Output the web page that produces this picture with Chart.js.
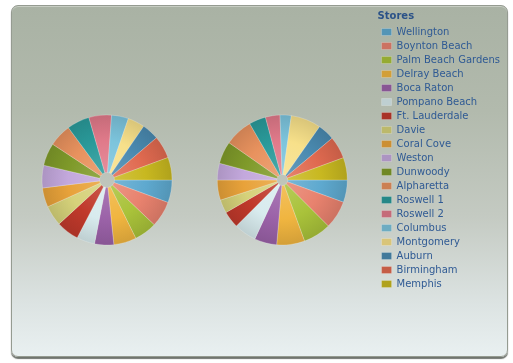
<!DOCTYPE html>
<html>
<head>
<meta charset="utf-8">
<script src="https://cdn.jsdelivr.net/npm/chart.js@4.4.1/dist/chart.umd.min.js"></script>
<style>
  html, body { margin: 0; padding: 0; background: #fff; }
  #wrap { position: relative; width: 513px; height: 363px; overflow: hidden; }
  #panel {
    position: absolute; left: 11px; top: 5px; width: 495px; height: 350px;
    border: 1px solid #959b91; border-radius: 7px;
    background: linear-gradient(to bottom, #a9b2a4 0%, #b2baad 30%, #c4cac2 60%, #dce3e2 85%, #e9f0f1 100%);
    box-shadow: 0 2px 1px #70756f, inset 0 1px 0 rgba(255,255,255,0.35);
  }
  #c1 { position: absolute; left: 37px; top: 110px; }
  #c2 { position: absolute; left: 184px; top: 0px; }
</style>
</head>
<body>
<div id="wrap">
  <div id="panel"></div>
  <canvas id="c1" width="140" height="140"></canvas>
  <canvas id="c2" width="326" height="360"></canvas>
</div>
<script>
// ── Data ──────────────────────────────────────────────────────
const stores = [
  "Wellington", "Boynton Beach", "Palm Beach Gardens", "Delray Beach",
  "Boca Raton", "Pompano Beach", "Ft. Lauderdale", "Davie", "Coral Cove",
  "Weston", "Dunwoody", "Alpharetta", "Roswell 1", "Roswell 2",
  "Columbus", "Montgomery", "Auburn", "Birmingham", "Memphis",
];
const salesLeft  = [20, 23, 20, 20, 17, 16, 20, 18, 17, 20, 20, 20, 20, 20, 15, 15, 15, 20, 20];
const salesRight = [20, 25, 25, 25, 20, 20, 15, 12, 18, 15, 20, 25, 15, 13, 10, 27, 15, 20, 20];

// ── Styles ────────────────────────────────────────────────────
const palette = [
  "#5ea9cf", "#e8826e", "#a9c23a", "#f0b540", "#9b62a8", "#d8ebee",
  "#c0392b", "#d6d27a", "#e8a23a", "#c3a8dc", "#7f9a2a", "#e8925e",
  "#2a9a9a", "#e07a8a", "#7cc4dc", "#f7e08a", "#4a8ab0", "#e06a50", "#c8b820",
];
const PIE_R = 65;

function shade(hex, amt) {
  const n = parseInt(hex.slice(1), 16);
  let r = (n >> 16) & 255, g = (n >> 8) & 255, b = n & 255;
  const t = amt < 0 ? 0 : 255, p = Math.abs(amt);
  r = Math.round(r + (t - r) * p);
  g = Math.round(g + (t - g) * p);
  b = Math.round(b + (t - b) * p);
  return `rgb(${r},${g},${b})`;
}

function sliceFill(ctx) {
  const base = palette[ctx.dataIndex % palette.length];
  const a = ctx.chart.chartArea;
  if (!a) return base;
  const cx = (a.left + a.right) / 2, cy = (a.top + a.bottom) / 2;
  const g = ctx.chart.ctx.createRadialGradient(cx, cy, 0, cx, cy, PIE_R);
  g.addColorStop(0, shade(base, 0.18));
  g.addColorStop(0.6, base);
  g.addColorStop(1, shade(base, -0.12));
  return g;
}

function pieOptions(showLegend, padding) {
  return {
    responsive: false,
    animation: false,
    rotation: 90,
    radius: PIE_R,
    cutout: 8,
    layout: { padding },
    plugins: {
      tooltip: { enabled: false },
      legend: {
        display: showLegend,
        position: "right",
        align: "start",
        title: {
          display: true,
          text: "Stores",
          position: "start",
          color: "#2b5288",
          font: { family: "'DejaVu Sans', sans-serif", size: 10, weight: "bold" },
          padding: { top: 0, bottom: 0 },
        },
        labels: {
          color: "#2f5a94",
          font: { family: "'DejaVu Sans', sans-serif", size: 10 },
          boxWidth: 10,
          boxHeight: 7,
          padding: 4,
        },
      },
    },
  };
}

function dataset(values) {
  return {
    data: values,
    backgroundColor: sliceFill,
    borderColor: "rgba(255,255,255,0.35)",
    borderWidth: 0.6,
    hoverOffset: 0,
  };
}

new Chart(document.getElementById("c1"), {
  type: "doughnut",
  data: { labels: stores, datasets: [dataset(salesLeft)] },
  options: pieOptions(false, 0),
});

new Chart(document.getElementById("c2"), {
  type: "doughnut",
  data: { labels: stores, datasets: [dataset(salesRight)] },
  options: pieOptions(true, { left: 3, top: 11, right: 0, bottom: 11 }),
});
</script>
</body>
</html>
